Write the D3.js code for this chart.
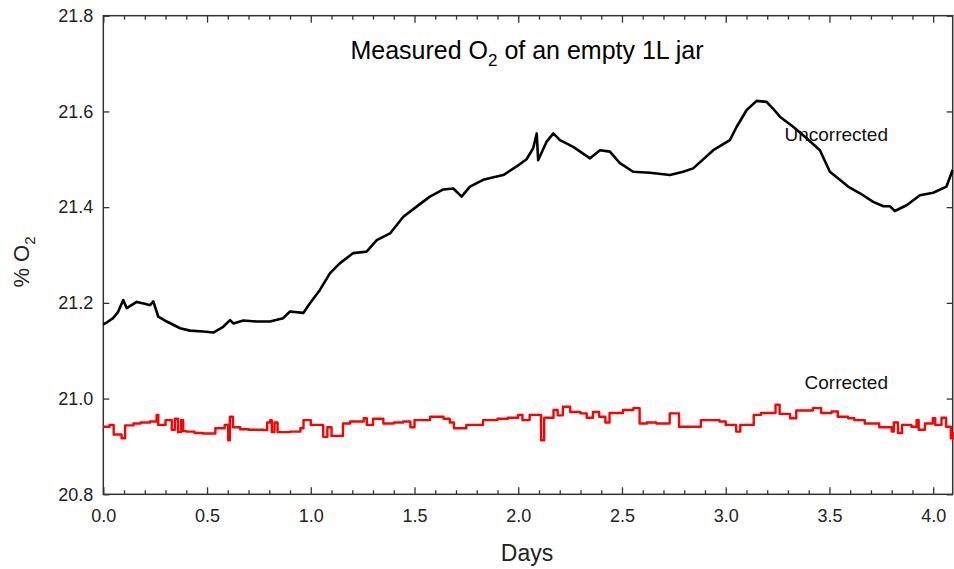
<!DOCTYPE html>
<html lang="en">
<head>
  <meta charset="UTF-8">
  <title>Measured O2 of an empty 1L jar</title>
  <style>
    body { margin: 0; background: #fff; }
    svg { display: block; font-family: "Liberation Sans", Arial, sans-serif; }
    .axis path { display: none; }
    .axis line { stroke: #333; stroke-width: 1.3; }
    .axis text { font-size: 18px; fill: #222; }
  </style>
</head>
<body>
  <div id="chart"></div>
  <script src="https://cdn.jsdelivr.net/npm/d3@7"></script>
  <script>
    // values (days, % O2)
    var uncorrectedDays = [0.000, 0.020, 0.047, 0.070, 0.096, 0.113, 0.161, 0.200, 0.225, 0.241, 0.265, 0.306, 0.370,
      0.418, 0.482, 0.530, 0.578, 0.611, 0.627, 0.675, 0.739, 0.803, 0.867,
      0.900, 0.964, 0.996, 1.044, 1.093, 1.141, 1.205, 1.269, 1.318, 1.382,
      1.446, 1.510, 1.574, 1.639, 1.687, 1.727, 1.767, 1.831, 1.896, 1.928,
      1.992, 2.040, 2.072, 2.089, 2.096, 2.137, 2.169, 2.201, 2.265, 2.346, 2.394,
      2.442, 2.490, 2.554, 2.635, 2.731, 2.795, 2.843, 2.940, 3.020, 3.053,
      3.101, 3.149, 3.197, 3.230, 3.261, 3.325, 3.390, 3.454, 3.502, 3.550, 3.590,
      3.647, 3.711, 3.760, 3.791, 3.815, 3.872, 3.936, 4.000, 4.064, 4.094];
    var uncorrectedO2 = [21.155, 21.160, 21.168, 21.180, 21.206, 21.189, 21.202, 21.198, 21.195, 21.203, 21.171, 21.161, 21.147,
      21.142, 21.140, 21.138, 21.150, 21.164, 21.157, 21.163, 21.161, 21.161, 21.168,
      21.182, 21.179, 21.199, 21.227, 21.262, 21.283, 21.304, 21.307, 21.331, 21.345,
      21.380, 21.401, 21.422, 21.437, 21.439, 21.422, 21.443, 21.457, 21.464, 21.467,
      21.485, 21.500, 21.523, 21.554, 21.498, 21.537, 21.554, 21.540, 21.526, 21.502, 21.519,
      21.516, 21.492, 21.474, 21.472, 21.467, 21.474, 21.481, 21.519, 21.540, 21.568,
      21.603, 21.622, 21.620, 21.605, 21.589, 21.568, 21.544, 21.519, 21.474, 21.457, 21.443,
      21.429, 21.411, 21.402, 21.402, 21.392, 21.404, 21.425, 21.430, 21.443, 21.478];

    var correctedDays = [0.000, 0.030, 0.050, 0.088, 0.105, 0.145, 0.180, 0.225, 0.257, 0.265,
      0.300, 0.330, 0.345, 0.360, 0.375, 0.385, 0.400, 0.440, 0.480, 0.540, 0.585,
      0.602, 0.610, 0.625, 0.660, 0.700, 0.770, 0.790, 0.805, 0.812, 0.825, 0.840,
      0.900, 0.950, 0.965, 1.000, 1.060, 1.080, 1.100, 1.155, 1.190, 1.255,
      1.270, 1.300, 1.350, 1.400, 1.445, 1.480, 1.500, 1.575, 1.640, 1.670,
      1.690, 1.750, 1.830, 1.900, 1.950, 2.000, 2.020, 2.055, 2.110, 2.125,
      2.170, 2.190, 2.215, 2.250, 2.300, 2.330, 2.360, 2.390, 2.420, 2.440, 2.505, 2.555,
      2.585, 2.620, 2.665, 2.730, 2.775, 2.850, 2.880, 2.970, 3.000, 3.050,
      3.070, 3.135, 3.170, 3.240, 3.260, 3.310, 3.340, 3.420, 3.460, 3.510,
      3.540, 3.590, 3.620, 3.670, 3.740, 3.800, 3.810, 3.830, 3.850, 3.895, 3.920,
      3.930, 3.960, 3.998, 4.010, 4.040, 4.062, 4.085, 4.094];
    var correctedO2 = [20.941, 20.945, 20.925, 20.917, 20.944, 20.948, 20.950, 20.952, 20.966, 20.945,
      20.955, 20.935, 20.958, 20.930, 20.955, 20.932, 20.931, 20.928, 20.927, 20.938, 20.945,
      20.913, 20.962, 20.940, 20.936, 20.935, 20.934, 20.950, 20.955, 20.930, 20.950, 20.930,
      20.931, 20.938, 20.955, 20.945, 20.920, 20.940, 20.922, 20.948, 20.952, 20.959,
      20.945, 20.958, 20.948, 20.950, 20.952, 20.940, 20.955, 20.962, 20.958, 20.950,
      20.938, 20.945, 20.955, 20.958, 20.960, 20.966, 20.955, 20.966, 20.913, 20.960,
      20.976, 20.965, 20.983, 20.972, 20.969, 20.960, 20.972, 20.962, 20.950, 20.970, 20.976, 20.980,
      20.948, 20.950, 20.948, 20.969, 20.941, 20.941, 20.955, 20.952, 20.945, 20.931,
      20.945, 20.966, 20.970, 20.987, 20.968, 20.959, 20.975, 20.980, 20.970, 20.973,
      20.962, 20.959, 20.955, 20.948, 20.940, 20.931, 20.950, 20.928, 20.945, 20.941, 20.955,
      20.935, 20.948, 20.959, 20.945, 20.960, 20.941, 20.917, 20.930];

    var xMajorTicks = [0, 0.5, 1, 1.5, 2, 2.5, 3, 3.5, 4];
    var yTicks = [20.8, 21.0, 21.2, 21.4, 21.6, 21.8];

    var width = 954, height = 569;
    var margin = {top: 15.7, right: 1.3, bottom: 74.7, left: 103.3};

    var x = d3.scaleLinear().domain([0, 4.094]).range([margin.left, width - margin.right]);
    var y = d3.scaleLinear().domain([20.8, 21.8]).range([height - margin.bottom, margin.top]);

    var svg = d3.select("#chart").append("svg").attr("width", width).attr("height", height);

    var xMinorTicks = d3.range(0, 41).map(function (i) { return i / 10; })
      .filter(function (v) { return Math.abs(v * 2 - Math.round(v * 2)) > 1e-6; });

    var fmt = d3.format(".1f");

    // bottom axis
    svg.append("g").attr("class", "axis")
      .attr("transform", "translate(0," + y(20.8) + ")")
      .call(d3.axisBottom(x).tickValues(xMajorTicks).tickSize(-7).tickPadding(15).tickFormat(fmt));
    svg.append("g").attr("class", "axis")
      .attr("transform", "translate(0," + y(20.8) + ")")
      .call(d3.axisBottom(x).tickValues(xMinorTicks).tickSize(-4).tickFormat(""));
    // top axis (ticks only)
    svg.append("g").attr("class", "axis")
      .attr("transform", "translate(0," + y(21.8) + ")")
      .call(d3.axisTop(x).tickValues(xMajorTicks).tickSize(-7).tickFormat(""));
    svg.append("g").attr("class", "axis")
      .attr("transform", "translate(0," + y(21.8) + ")")
      .call(d3.axisTop(x).tickValues(xMinorTicks).tickSize(-4).tickFormat(""));
    // left axis
    svg.append("g").attr("class", "axis")
      .attr("transform", "translate(" + x(0) + ",0)")
      .call(d3.axisLeft(y).tickValues(yTicks).tickSize(-6).tickPadding(10).tickFormat(fmt));
    // right axis (ticks only)
    svg.append("g").attr("class", "axis")
      .attr("transform", "translate(" + (width - margin.right) + ",0)")
      .call(d3.axisRight(y).tickValues(yTicks).tickSize(-6).tickFormat(""));

    // frame
    svg.append("rect")
      .attr("x", x(0)).attr("y", y(21.8))
      .attr("width", x(4.094) - x(0)).attr("height", y(20.8) - y(21.8))
      .attr("fill", "none").attr("stroke", "#333").attr("stroke-width", 1.5);

    var uncorrected = uncorrectedDays.map(function (d, i) { return [d, uncorrectedO2[i]]; });
    var corrected = correctedDays.map(function (d, i) { return [d, correctedO2[i]]; });

    var line = d3.line().x(function (d) { return x(d[0]); }).y(function (d) { return y(d[1]); });
    var stepLine = d3.line().curve(d3.curveStepAfter)
      .x(function (d) { return x(d[0]); }).y(function (d) { return y(d[1]); });

    svg.append("path").datum(corrected)
      .attr("d", stepLine).attr("fill", "none")
      .attr("stroke", "#f00").attr("stroke-width", 2.4).attr("stroke-linejoin", "round");
    svg.append("path").datum(uncorrected)
      .attr("d", line).attr("fill", "none")
      .attr("stroke", "#000").attr("stroke-width", 2.6).attr("stroke-linejoin", "round");

    // labels on the lines
    svg.append("text").attr("x", 888).attr("y", 141).attr("text-anchor", "end")
      .attr("font-size", 19).attr("fill", "#111").text("Uncorrected");
    svg.append("text").attr("x", 888).attr("y", 389).attr("text-anchor", "end")
      .attr("font-size", 19).attr("fill", "#111").text("Corrected");

    // title
    var title = svg.append("text").attr("x", 527).attr("y", 59).attr("text-anchor", "middle")
      .attr("font-size", 25).attr("fill", "#000");
    title.append("tspan").text("Measured O");
    title.append("tspan").attr("font-size", 17).attr("dy", 7).text("2");
    title.append("tspan").attr("dy", -7).text(" of an empty 1L jar");

    // axis titles
    svg.append("text").attr("x", 527).attr("y", 561).attr("text-anchor", "middle")
      .attr("font-size", 23).attr("fill", "#222").text("Days");

    var yLabel = svg.append("text").attr("transform", "translate(29,262) rotate(-90)")
      .attr("text-anchor", "middle").attr("font-size", 22).attr("fill", "#222");
    yLabel.append("tspan").text("% O");
    yLabel.append("tspan").attr("font-size", 15).attr("dy", 6).text("2");
  </script>
</body>
</html>
